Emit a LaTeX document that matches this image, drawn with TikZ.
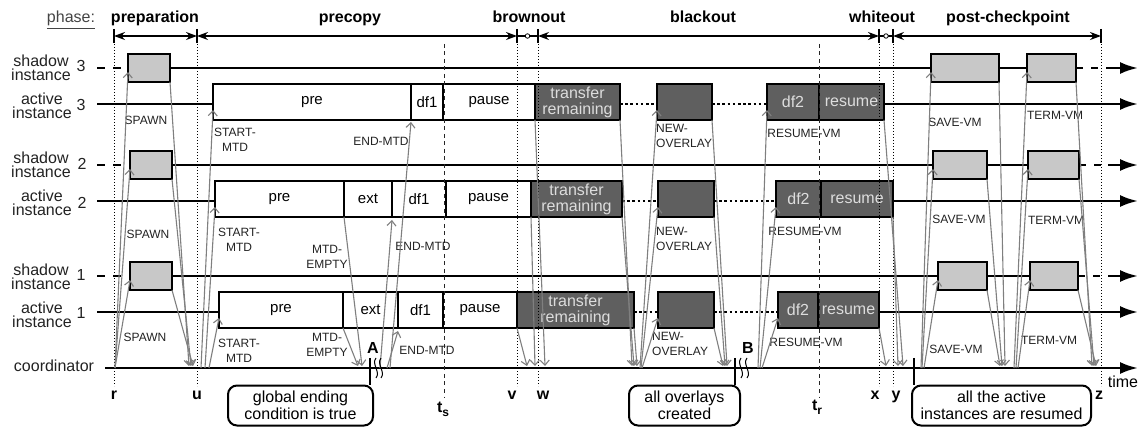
\documentclass[tikz,border=0pt]{standalone}
\usepackage{fontspec}
\setmainfont{Liberation Sans}
\usetikzlibrary{arrows.meta}
\definecolor{msggray}{HTML}{7F7F7F}
\definecolor{darkfill}{HTML}{5F5F5F}
\definecolor{lightfill}{HTML}{C8C8C8}
\definecolor{darktext}{HTML}{DDDDDD}
\definecolor{labeltext}{HTML}{222222}
\definecolor{phasegray}{HTML}{444444}
\newcommand{\myfs}[2]{\fontsize{#1}{#2}\selectfont}
\newcommand{\bx}[7]{\node[#6, minimum width={(#3-#2)*1pt}, minimum height={#5*1pt}] (#1) at ({(#2+#3)/2},#4) {#7};}
\newcommand{\msgup}[4]{\coordinate (#1) at (#2,368); \draw[msg] (#1) -- ([yshift=#4pt]#3.south west);}
\newcommand{\msgdn}[3]{\coordinate (#1) at (#3,366); \draw[msg] (#2.south east) -- (#1);}
\begin{document}
\begin{tikzpicture}[x=1pt,y=-1pt,
  wbox/.style={draw, line width=2.6pt, fill=white, inner sep=0pt, outer sep=0pt, font=\myfs{15}{15}},
  dbox/.style={wbox, fill=darkfill, text=darktext, font=\myfs{16}{16}, align=center},
  lbox/.style={wbox, fill=lightfill},
  msg/.style={draw=msggray, line width=1.1pt, -{Straight Barb[length=5pt,width=9pt]}},
  lbl/.style={font=\myfs{12}{14.5}, text=labeltext, align=center, inner sep=0pt},
  lbll/.style={lbl, align=left, anchor=west},
  rowlbl/.style={font=\myfs{16}{14}, align=center, inner sep=0pt, text=labeltext},
  tline/.style={line width=2.6pt},
  phaselbl/.style={font=\bfseries\myfs{16}{16}, inner sep=0pt, anchor=base},
  ptlbl/.style={font=\bfseries\myfs{16}{16}, inner sep=0pt, anchor=base},
  vdot/.style={line width=0.9pt, dash pattern=on 1pt off 2pt},
  vdash/.style={line width=1pt, dash pattern=on 4pt off 3.5pt, draw=black!85},
  callout/.style={draw, rounded corners=9pt, line width=2pt, font=\myfs{16}{17}, align=center, inner sep=0pt},
  dotconn/.style={line width=2.6pt, dash pattern=on 2.6pt off 2.6pt},
  phline/.style={line width=1.1pt},
  pharrow/.style={line width=1.1pt, {Stealth[length=11pt,width=8pt]}-{Stealth[length=11pt,width=8pt]}},
  bigtip/.style={line width=2.6pt, -{Latex[length=18pt,width=12pt]}}
]
\useasboundingbox (0,0) rectangle (1140,427);

% ---------- phase header ----------
\node[phaselbl, font=\myfs{16}{16}, text=phasegray] (phz) at (71,23) {\underline{phase:}};
\node[phaselbl] (ph1) at (155,23) {preparation};
\node[phaselbl] (ph2) at (350,23) {precopy};
\node[phaselbl] (ph3) at (529,23) {brownout};
\node[phaselbl] (ph4) at (703,23) {blackout};
\node[phaselbl] (ph5) at (882,23) {whiteout};
\node[phaselbl] (ph6) at (1008,23) {post-checkpoint};
\coordinate (b1) at (114,36);
\coordinate (b2) at (197,36);
\coordinate (b3) at (517,36);
\coordinate (b4) at (538,36);
\coordinate (b5) at (879,36);
\coordinate (b6) at (893,36);
\coordinate (b7) at (1101,36);
\draw[pharrow] (b1) -- (b2);
\draw[pharrow] (b2) -- (b3);
\draw[phline] (b3) -- (b4);
\draw[pharrow] (b4) -- (b5);
\draw[phline] (b5) -- (b6);
\draw[pharrow] (b6) -- (b7);
\foreach \b in {b1,b2,b3,b4,b5,b6,b7} \draw[phline] ([yshift=7pt]\b) -- ([yshift=-7pt]\b);
\node[circle, draw, line width=0.8pt, fill=white, inner sep=0pt, minimum size=4.5pt] (brc) at (527.5,36) {};
\node[circle, draw, line width=0.8pt, fill=white, inner sep=0pt, minimum size=4.5pt] (whc) at (886,36) {};

% ---------- row labels ----------
\node[rowlbl] (ls3) at (41,68) {shadow\\instance};
\node[rowlbl] (ns3) at (81,66) {3};
\node[rowlbl] (la3) at (42,106) {active\\instance};
\node[rowlbl] (na3) at (81,105) {3};
\node[rowlbl] (ls2) at (41,165) {shadow\\instance};
\node[rowlbl] (ns2) at (82,164) {2};
\node[rowlbl] (la2) at (42,203) {active\\instance};
\node[rowlbl] (na2) at (82,203) {2};
\node[rowlbl] (ls1) at (41,277) {shadow\\instance};
\node[rowlbl] (ns1) at (81,275) {1};
\node[rowlbl] (la1) at (42,315) {active\\instance};
\node[rowlbl] (na1) at (81,313) {1};
\node[rowlbl] (lco) at (54,366) {coordinator};

% ---------- boxes ----------
\bx{s3sp}{128}{170}{68}{28}{lbox}{}
\bx{s3sv}{931}{999}{68}{28}{lbox}{}
\bx{s3tm}{1027}{1076}{68}{28}{lbox}{}
\bx{s2sp}{130}{172}{165}{28}{lbox}{}
\bx{s2sv}{933}{987}{165}{28}{lbox}{}
\bx{s2tm}{1028}{1079}{165}{28}{lbox}{}
\bx{s1sp}{130}{172}{276}{28}{lbox}{}
\bx{s1sv}{938}{987}{276}{28}{lbox}{}
\bx{s1tm}{1030}{1078}{276}{28}{lbox}{}

\coordinate (s3a) at (97,68);  \coordinate (s3e) at (1138,68); \coordinate (s3m) at (1110,68);
\coordinate (s2a) at (97,165); \coordinate (s2e) at (1138,165); \coordinate (s2m) at (1110,165);
\coordinate (s1a) at (97,276); \coordinate (s1e) at (1138,276); \coordinate (s1m) at (1110,276);
\foreach \r in {3,2,1}{
  \draw[tline, dash pattern=on 8pt off 8pt] (s\r a) -- (s\r sp.west);
  \draw[tline] (s\r sp.east) -- (s\r sv.west);
  \draw[tline] (s\r sv.east) -- (s\r tm.west);
  \draw[tline, dash pattern=on 7pt off 8pt] (s\r tm.east) -- (s\r m);
  \draw[bigtip] ([xshift=-2pt]s\r m) -- (s\r e);
}

\bx{a3pre}{213}{411}{102}{36}{wbox}{pre}
\bx{a3df1}{411}{443}{102}{36}{wbox}{df1}
\bx{a3pause}{443}{535}{102}{36}{wbox}{pause}
\bx{a3tr}{535}{620}{102}{36}{dbox}{transfer\\remaining}
\bx{a3ov}{657}{712}{102}{36}{dbox}{}
\bx{a3df2}{767}{819}{102}{36}{dbox}{df2}
\bx{a3res}{819}{884}{102}{36}{dbox}{resume}
\bx{a2pre}{215}{344}{199}{36}{wbox}{pre}
\bx{a2ext}{344}{392}{199}{36}{wbox}{ext}
\bx{a2df1}{392}{446}{199}{36}{wbox}{df1}
\bx{a2pause}{446}{531}{199}{36}{wbox}{pause}
\bx{a2tr}{531}{622}{199}{36}{dbox}{transfer\\remaining}
\bx{a2ov}{658}{714}{199}{36}{dbox}{}
\bx{a2df2}{776}{821}{199}{36}{dbox}{df2}
\bx{a2res}{821}{893}{199}{36}{dbox}{resume}
\bx{a1pre}{219}{343}{310}{36}{wbox}{pre}
\bx{a1ext}{343}{398}{310}{36}{wbox}{ext}
\bx{a1df1}{398}{443}{310}{36}{wbox}{df1}
\bx{a1pause}{443}{517}{310}{36}{wbox}{pause}
\bx{a1tr}{517}{634}{310}{36}{dbox}{transfer\\remaining}
\bx{a1ov}{658}{714}{310}{36}{dbox}{}
\bx{a1df2}{778}{818}{310}{36}{dbox}{df2}
\bx{a1res}{818}{879}{310}{36}{dbox}{resume}

\coordinate (a3a) at (97,104);  \coordinate (a3e) at (1138,104);
\coordinate (a2a) at (97,201);  \coordinate (a2e) at (1138,201);
\coordinate (a1a) at (97,312);  \coordinate (a1e) at (1138,312);
\foreach \r in {3,2,1}{
  \draw[tline] (a\r a) -- ([yshift=-2pt]a\r pre.west);
  \draw[dotconn] ([yshift=-2pt]a\r tr.east) -- ([yshift=-2pt]a\r ov.west);
  \draw[dotconn] ([yshift=-2pt]a\r ov.east) -- ([yshift=-2pt]a\r df2.west);
  \draw[bigtip] ([yshift=-2pt]a\r res.east) -- (a\r e);
}

\coordinate (cst) at (105,368);
\coordinate (cen) at (1138,368);
\draw[bigtip] (cst) -- (cen);
\node[font=\myfs{16}{16}, inner sep=0pt, anchor=base] (ltime) at (1123,388) {time};

% ---------- vertical guide lines ----------
\foreach \x in {114,197,517,538,879,893,1101} \draw[vdot] (\x,44) -- (\x,386);
\foreach \x in {444,819} \draw[vdash] (\x,44) -- (\x,398);

\node[ptlbl] (lr) at (114,399) {r};
\node[ptlbl] (lu) at (197,399) {u};
\node[ptlbl] (lv) at (512,399) {v};
\node[ptlbl] (lw) at (543,399) {w};
\node[ptlbl] (lx) at (875,399) {x};
\node[ptlbl] (ly) at (896,399) {y};
\node[ptlbl] (lz) at (1099,399) {z};
\node[ptlbl] (lts) at (443,412) {t\raisebox{-4pt}{\myfs{12}{12}s}};
\node[ptlbl] (ltr) at (817,410) {t\raisebox{-4pt}{\myfs{12}{12}r}};

% ---------- message labels ----------
\node[lbl] (m1) at (146,120) {SPAWN};
\node[lbl] (m2) at (148,234) {SPAWN};
\node[lbl] (m3) at (145,337) {SPAWN};
\node[lbl] (m4) at (235,140) {START-\\MTD};
\node[lbl] (m5) at (239,240) {START-\\MTD};
\node[lbl] (m6) at (239,351) {START-\\MTD};
\node[lbl] (m7) at (381,141) {END-MTD};
\node[lbl] (m8) at (423,246) {END-MTD};
\node[lbl] (m9) at (427,350) {END-MTD};
\node[lbl] (m10) at (327,257) {MTD-\\EMPTY};
\node[lbl] (m11) at (327,345) {MTD-\\EMPTY};
\node[lbll] (m12) at (656,136) {NEW-\\OVERLAY};
\node[lbll] (m13) at (656,239) {NEW-\\OVERLAY};
\node[lbll] (m14) at (652,344) {NEW-\\OVERLAY};
\node[lbl] (m15) at (804,133) {RESUME-VM};
\node[lbl] (m16) at (805,231) {RESUME-VM};
\node[lbl] (m17) at (806,342) {RESUME-VM};
\node[lbl] (m18) at (955,122) {SAVE-VM};
\node[lbl] (m19) at (959,219) {SAVE-VM};
\node[lbl] (m20) at (956,349) {SAVE-VM};
\node[lbl] (m21) at (1055,115) {TERM-VM};
\node[lbl] (m22) at (1056,220) {TERM-VM};
\node[lbl] (m23) at (1049,340) {TERM-VM};

% ---------- messages ----------
\msgup{c01}{115}{s3sp}{10}
\msgup{c02}{115}{s2sp}{10}
\msgup{c03}{115}{s1sp}{10}
\msgdn{d01}{s3sp}{189}
\msgdn{d02}{s2sp}{191}
\msgdn{d03}{s1sp}{193}
\msgup{c04}{201}{a3pre}{10}
\msgup{c05}{205}{a2pre}{10}
\msgup{c06}{209}{a1pre}{10}
\msgdn{d04}{a2pre}{362}
\msgdn{d05}{a1pre}{358}
\msgup{c07}{390}{a3df1}{-2}
\msgup{c08}{380}{a2df1}{-3}
\msgup{c09}{387}{a1df1}{-3}
\msgdn{d06}{a3pause}{545}
\msgdn{d07}{a2pause}{535}
\msgdn{d08}{a1pause}{527}
\msgdn{d09}{a3tr}{632}
\msgdn{d10}{a2tr}{634}
\msgdn{d11}{a1tr}{637}
\msgup{c10}{640}{a3ov}{10}
\msgup{c11}{641}{a2ov}{10}
\msgup{c12}{642}{a1ov}{10}
\msgdn{d12}{a3ov}{727}
\msgdn{d13}{a2ov}{725}
\msgdn{d14}{a1ov}{723}
\msgup{c13}{758}{a3df2}{10}
\msgup{c14}{760}{a2df2}{10}
\msgup{c15}{762}{a1df2}{10}
\msgdn{d15}{a3res}{903}
\msgdn{d16}{a2res}{898}
\msgdn{d17}{a1res}{886}
\msgup{c16}{921}{s3sv}{10}
\msgup{c17}{922}{s2sv}{10}
\msgup{c18}{924}{s1sv}{10}
\msgdn{d18}{s3sv}{1005}
\msgdn{d19}{s2sv}{1002}
\msgdn{d20}{s1sv}{1000}
\msgup{c19}{1014}{s3tm}{10}
\msgup{c20}{1016}{s2tm}{10}
\msgup{c21}{1018}{s1tm}{10}
\msgdn{d21}{s3tm}{1092}
\msgdn{d22}{s2tm}{1094}
\msgdn{d23}{s1tm}{1096}

% ---------- break marks & callouts ----------
\node[ptlbl] (lA) at (373,353) {A};
\node[ptlbl] (lB) at (748,353) {B};
\foreach \x in {376,381,741,747}
  \draw[line width=1pt] (\x,358) .. controls (\x-5,364) and (\x+5,372) .. (\x,378);

\node[callout, minimum width=145pt, minimum height=40pt] (callA) at (300.5,405.5) {global ending\\condition is true};
\node[callout, minimum width=111pt, minimum height=40pt] (callB) at (684.5,405.5) {all overlays\\created};
\node[callout, minimum width=179pt, minimum height=40pt] (callC) at (1001.5,405.5) {all the active\\instances are resumed};
\coordinate (tA) at (370,358);
\coordinate (tB) at (735,358);
\coordinate (tC) at (914,358);
\draw[line width=2.5pt] (tA) -- (tA |- callA.north);
\draw[line width=2.5pt] (tB) -- (tB |- callB.north);
\draw[line width=2.5pt] (tC) -- (tC |- callC.north);
\end{tikzpicture}
\end{document}
